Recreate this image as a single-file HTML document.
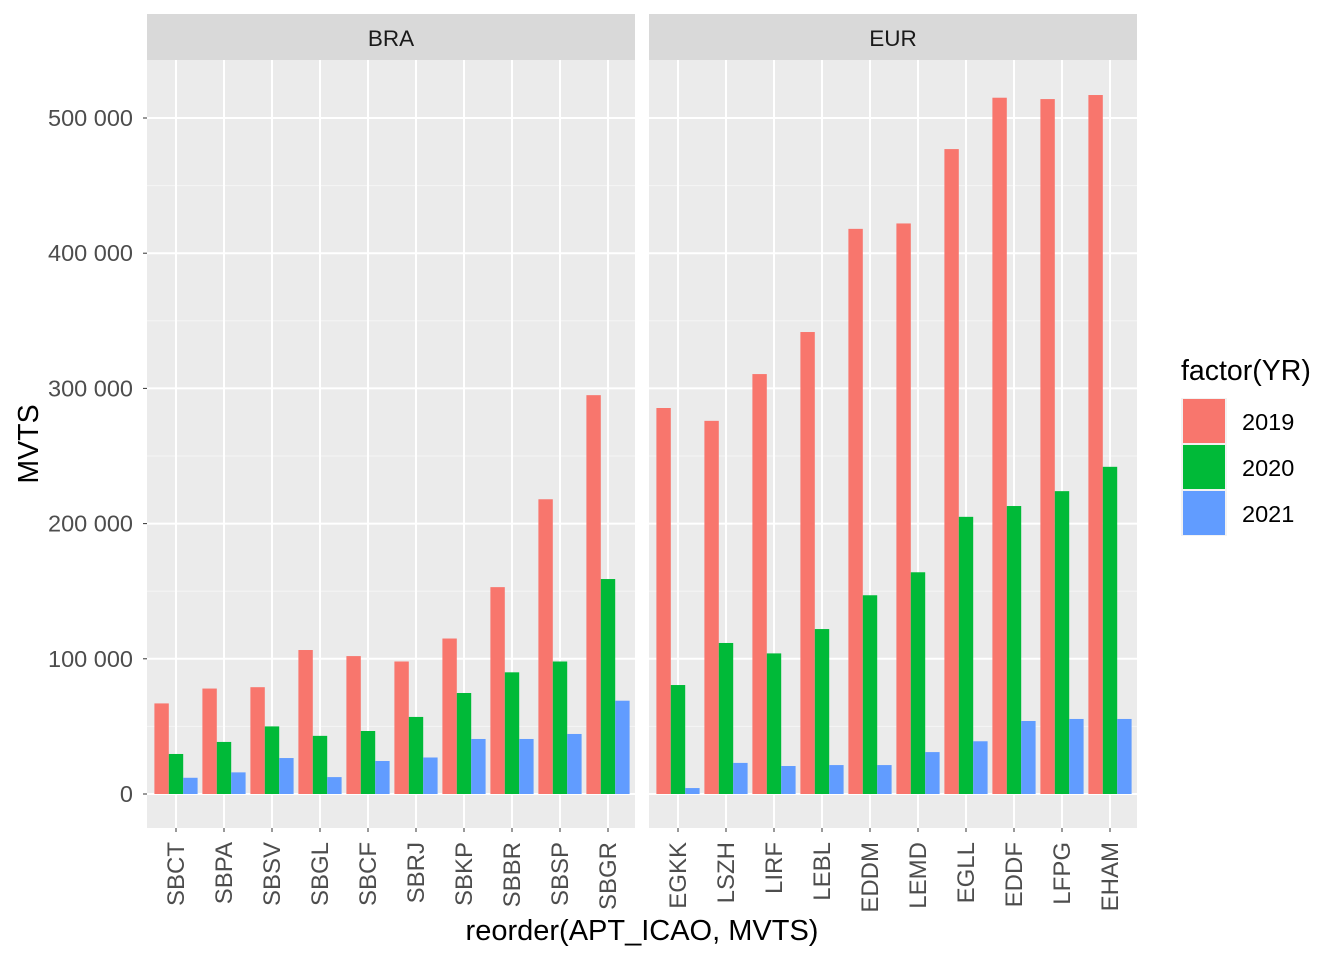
<!DOCTYPE html>
<html><head><meta charset="utf-8"><style>
html,body{margin:0;padding:0;background:#fff;}
svg{display:block;font-family:"Liberation Sans",Arial,sans-serif;}
</style></head><body>
<svg id="chart" width="1344" height="960" viewBox="0 0 1344 960"></svg>
<script>
const braCats=["SBCT","SBPA","SBSV","SBGL","SBCF","SBRJ","SBKP","SBBR","SBSP","SBGR"];
const bra2019=[67000,78000,79000,106500,102000,98000,115000,153000,218000,295000];
const bra2020=[29600,38500,50000,43000,46600,57000,74700,90000,98000,159000];
const bra2021=[12000,16000,26600,12500,24400,27000,40700,40700,44400,69000];
const eurCats=["EGKK","LSZH","LIRF","LEBL","EDDM","LEMD","EGLL","EDDF","LFPG","EHAM"];
const eur2019=[285500,276000,310600,341700,418000,422000,477000,515000,514000,517000];
const eur2020=[80600,111700,104000,122000,147000,164000,205000,213000,224000,242000];
const eur2021=[4400,23000,20700,21400,21400,31000,39000,54000,55500,55500];
const years=["2019","2020","2021"];
const yTicks=[0,100000,200000,300000,400000,500000];
const yTickLabels=["0","100 000","200 000","300 000","400 000","500 000"];

const NS="http://www.w3.org/2000/svg";
const svg=document.getElementById("chart");
const colors=["#F8766D","#00BA38","#619CFF"];
const top0=60,bot0=828;
function y(v){return 794-v*676/500000;}
function mk(tag,attrs,parent){const e=document.createElementNS(NS,tag);for(const k in attrs)e.setAttribute(k,attrs[k]);(parent||svg).appendChild(e);return e;}

const panels=[{name:"BRA",x0:147,cats:braCats,series:[bra2019,bra2020,bra2021]},
              {name:"EUR",x0:649,cats:eurCats,series:[eur2019,eur2020,eur2021]}];
const pw=488;
panels.forEach(p=>{
  const g=mk("g",{});
  
  
  const bg=mk("rect",{x:p.x0,y:top0,width:pw,height:bot0-top0,fill:"#EBEBEB"},g);
  
  
  const strip=mk("rect",{x:p.x0,y:14,width:pw,height:46,fill:"#D9D9D9"},g);
  
  
  const st=mk("text",{x:p.x0+pw/2,y:46,"text-anchor":"middle","font-size":"22.5",fill:"#1A1A1A"},g);
  st.textContent=p.name;
  
  
  for(let v=50000;v<=500000;v+=100000){
    mk("line",{x1:p.x0,x2:p.x0+pw,y1:y(v),y2:y(v),stroke:"#F5F5F5","stroke-width":1},g);
  }
  yTicks.forEach(v=>{mk("line",{x1:p.x0,x2:p.x0+pw,y1:y(v),y2:y(v),stroke:"#fff","stroke-width":2},g);});
  const c0=p.x0+29;
  p.cats.forEach((c,i)=>{
    const cx=c0+i*48;
    mk("line",{x1:cx,x2:cx,y1:top0,y2:bot0,stroke:"#fff","stroke-width":2},g);
  });
  p.cats.forEach((c,i)=>{
    const cx=c0+i*48;
    const bw=14.4;
    p.series.forEach((s,k)=>{
      const bx=cx-1.5*bw+k*bw;
      const r=mk("rect",{x:bx,y:y(s[i]),width:bw,height:y(0)-y(s[i]),fill:colors[k]},g);
      
      
    });
    mk("line",{x1:cx,x2:cx,y1:bot0,y2:bot0+4,stroke:"#333","stroke-width":1},g);
    const t=mk("text",{transform:`translate(${cx+8},${842}) rotate(-90)`,"text-anchor":"end","font-size":"24",fill:"#4D4D4D"},g);
    t.textContent=c;
    
    
  });
});
yTicks.forEach((v,i)=>{
  mk("line",{x1:143,x2:147,y1:y(v),y2:y(v),stroke:"#333","stroke-width":1});
  const t=mk("text",{x:133,y:y(v)+8,"text-anchor":"end","font-size":"23.5",fill:"#4D4D4D"});
  t.textContent=yTickLabels[i];
  
  
});
const yt=mk("text",{transform:"translate(38,444) rotate(-90)","text-anchor":"middle","font-size":"28.5",fill:"#000"});
yt.textContent="MVTS";


const xt=mk("text",{x:642,y:940,"text-anchor":"middle","font-size":"29",fill:"#000"});
xt.textContent="reorder(APT_ICAO, MVTS)";


const lg=mk("g",{});


const lt=mk("text",{x:1181,y:380,"font-size":"28.5",fill:"#000"},lg);
lt.textContent="factor(YR)";


years.forEach((yr,k)=>{
  const ky=398+k*46;
  mk("rect",{x:1181,y:ky,width:46,height:46,fill:"#F2F2F2"},lg);
  const r=mk("rect",{x:1183,y:ky+1,width:42,height:44,fill:colors[k]},lg);
  
  
  const t=mk("text",{x:1242,y:ky+32,"font-size":"23.5",fill:"#000"},lg);
  t.textContent=yr;
  
  
});
</script>
</body></html>
